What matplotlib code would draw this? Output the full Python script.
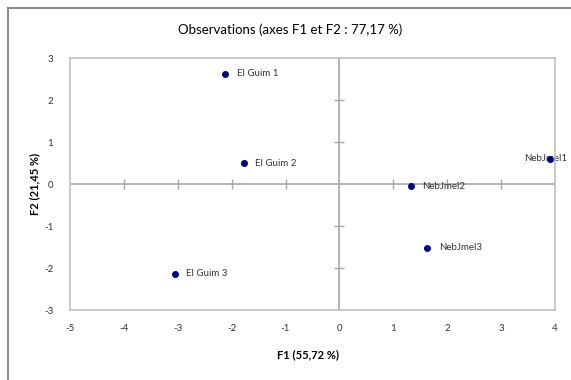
import matplotlib
matplotlib.use("Agg")
import matplotlib.pyplot as plt
from matplotlib.lines import Line2D

plt.rcParams['font.family'] = ['Lato', 'DejaVu Sans']
plt.rcParams['axes.unicode_minus'] = False

# observations (F1, F2)
names = ["El Guim 1", "El Guim 2", "El Guim 3", "NebJmel1", "NebJmel2", "NebJmel3"]
f1 = [-2.12, -1.78, -3.06, 3.91, 1.32, 1.63]
f2 = [2.62, 0.50, -2.14, 0.60, -0.05, -1.52]

xticks = [-5, -4, -3, -2, -1, 0, 1, 2, 3, 4]
yticks = [-3, -2, -1, 0, 1, 2, 3]

W, H = 571, 380
fig = plt.figure(figsize=(W / 100, H / 100), dpi=100)
ax = fig.add_axes([70 / W, 1 - 310 / H, (555 - 70) / W, (310 - 58) / H])

box = "#c0c0c0"
axis_c = "#a6a6a6"
for s in ax.spines.values():
    s.set_color(box)
    s.set_linewidth(1.2)

ax.set_xlim(xticks[0], xticks[-1])
ax.set_ylim(yticks[0], yticks[-1])
ax.set_xticks(xticks)
ax.set_yticks(yticks)
ax.tick_params(length=0, labelsize=7, labelcolor="#333333")
ax.tick_params(axis="x", pad=10)
ax.tick_params(axis="y", pad=12)

# axes through origin with crossing tick marks
ax.axhline(0, color=axis_c, lw=1.2, zorder=1)
ax.axvline(0, color=axis_c, lw=1.2, zorder=1)
xt = [t for t in xticks[1:-1] if t != 0]
yt = [t for t in yticks[1:-1] if t != 0]
ax.plot(xt, [0] * len(xt), ls="none", marker="|", ms=7, mew=1.0, color=axis_c, zorder=1)
ax.plot([0] * len(yt), yt, ls="none", marker="_", ms=7, mew=1.0, color=axis_c, zorder=1)

ax.plot(f1, f2, ls="none", marker="o", ms=4, color="#000080", zorder=3, clip_on=False)
for n, x, y in zip(names, f1, f2):
    if x > 3.5:
        ax.annotate(n, (x, y), xytext=(12, 0), textcoords="offset points",
                    ha="right", va="center", fontsize=7, color="#333333", zorder=2)
    else:
        ax.annotate(n, (x, y), xytext=(8.5, 0), textcoords="offset points",
                    ha="left", va="center", fontsize=7, color="#333333")

ax.set_xlabel("F1 (55,72 %)", fontsize=8, fontweight="bold")
ax.set_ylabel("F2 (21,45 %)", fontsize=8, fontweight="bold")
ax.xaxis.set_label_coords(0.49, (310 - 355) / 252, transform=ax.transAxes)
ax.yaxis.set_label_coords((35 - 70) / 485, 0.5, transform=ax.transAxes)
ax.xaxis.label.set_va("center")
ax.yaxis.label.set_va("center")
fig.text(290 / W, 1 - 30 / H, "Observations (axes F1 et F2 : 77,17 %)",
         ha="center", va="center", fontsize=9.5)

# outer chart frame (left and top edges)
fig.add_artist(Line2D([8 / W, 8 / W], [0, 1 - 8 / H], color="#8c8c8c", lw=1.5))
fig.add_artist(Line2D([8 / W, 1], [1 - 8 / H, 1 - 8 / H], color="#8c8c8c", lw=1.5))

fig.savefig("out.png", dpi=100)
